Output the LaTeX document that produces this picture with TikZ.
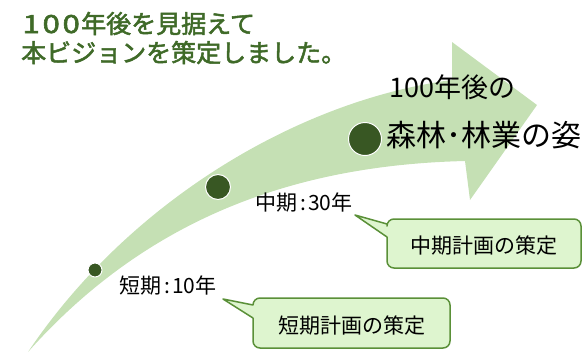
\documentclass[tikz,border=0pt]{standalone}
\usepackage{fontspec}
\usepackage{graphicx}
\newfontfamily\jp{Noto Sans CJK JP}
\newfontfamily\jpmed[FakeBold=2]{Noto Sans CJK JP}
\definecolor{arrowgreen}{HTML}{C5E0B4}
\definecolor{dotgreen}{HTML}{385723}
\definecolor{titlegreen}{HTML}{3F6A28}
\definecolor{boxfill}{HTML}{DEF5CF}
\definecolor{boxline}{HTML}{5A9038}
\newcommand\wdgt[1]{\makebox[0.8em][c]{\scalebox{1.25}[1]{#1}}}
\begin{document}
\begin{tikzpicture}[x=1pt,y=-1pt,
  titletext/.style={anchor=base west, inner sep=0pt, text=titlegreen, font=\jpmed\fontsize{25}{30}\selectfont},
  bigtext/.style={anchor=base west, inner sep=0pt, text=black, font=\jp\fontsize{27}{30}\selectfont},
  hugetext/.style={anchor=base west, inner sep=0pt, text=black, font=\jp\fontsize{30}{33}\selectfont},
  label/.style={anchor=base west, inner sep=0pt, text=black, font=\jp\fontsize{21}{25}\selectfont},
  calltext/.style={inner sep=0pt, text=black, font=\jp\fontsize{21}{25}\selectfont},
  callout/.style={fill=boxfill, draw=boxline, line width=1.5pt, line join=round},
  dot/.style={circle, fill=dotgreen, draw=white, line width=1pt, inner sep=0pt}
]
\useasboundingbox (0,0) rectangle (585,354);

% big curved arrow
\fill[arrowgreen] (28,352) .. controls (130,200) and (300,100) .. (452,80)
  -- (452,42) -- (537,105) -- (470,200) -- (465,161)
  .. controls (300,165) and (150,215) .. (28,352) -- cycle;

% title
\node[titletext] (t1) at (21,33) {\wdgt{1}\wdgt{0}\wdgt{0}年後を見据えて};
\node[titletext] (t2) at (21,62) {本ビジョンを策定しました。};

% milestones
\node[dot, minimum size=14pt] (d1) at (95,270) {};
\node[dot, minimum size=25pt] (d2) at (218,187) {};
\node[dot, minimum size=33pt] (d3) at (365,139) {};

\node[bigtext] (g1) at (389,97) {100年後の};
\node[hugetext] (g2) at (386,146) {森林･林業の姿};

\node[label] (l2) at (255,210) {中期\kern3pt:\kern2pt30年};
\node[label] (l1) at (119,293) {短期\kern3pt:\kern2pt10年};

% callout: mid-term
\coordinate (c2tip) at (355,215);
\draw[callout] (c2tip) -- (387,237) {[rounded corners=7pt] -- (387,268) -- (581,268) -- (581,219) -- (387,219)} -- (387,224) -- cycle;
\node[calltext] (c2) at (484,246) {中期計画の策定};

% callout: short-term
\coordinate (c1tip) at (223,299);
\draw[callout] (c1tip) -- (253,318) {[rounded corners=7pt] -- (253,348) -- (450,348) -- (450,298) -- (253,298)} -- (253,305) -- cycle;
\node[calltext] (c1) at (352,326) {短期計画の策定};
\end{tikzpicture}
\end{document}
